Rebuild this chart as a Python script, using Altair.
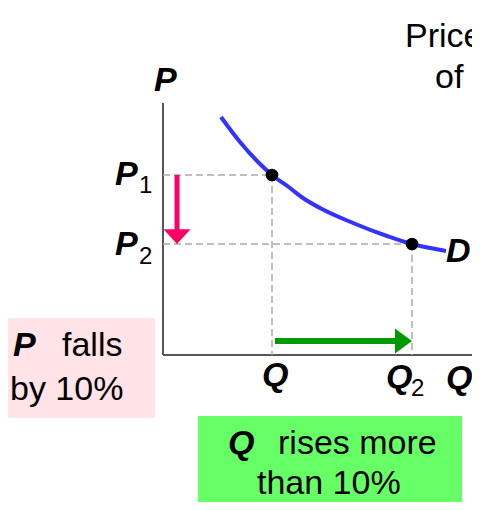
import altair as alt
import pandas as pd

# ---- canvas geometry (layout coordinates, px of the 480x510 picture) ----
W, H = 464, 494
xs = alt.Scale(domain=[8, 8 + W], nice=False, zero=False)
ys = alt.Scale(domain=[8, 8 + H], nice=False, zero=False, reverse=True)

# ---- data ----
demand_q = [221, 240, 258, 272, 290, 303, 320, 353, 387, 412, 430, 446]
demand_p = [117, 142, 162, 175, 188, 198, 208, 223, 236, 244, 248, 251]

point_q = [272, 412]
point_p = [175, 244]

origin_q, origin_p = 163, 355
axis_top_p, axis_right_q = 103, 477

box_labels = ["pink", "green"]
box_x1 = [0, 198]
box_x2 = [155, 462]
box_y1 = [318, 416]
box_y2 = [418, 512]

# bold-italic symbols
sym_text = ["P", "P", "P", "Q", "Q", "Q", "D", "P", "Q"]
sym_x = [154, 115, 115, 262, 386, 446, 446, 13, 228]
sym_y = [91, 185, 255, 386, 388, 389, 262, 356, 454]
# subscripts
sub_text = ["1", "2", "2"]
sub_x = [139, 139, 411]
sub_y = [193, 264, 396]
# plain text
txt_text = ["falls", "by 10%", "rises more", "than 10%", "Price elasticity", "of demand"]
txt_x = [62, 10, 278, 257, 405, 435]
txt_y = [356, 400, 454, 494, 47, 88]

# arrows (start, shaft end, tip)
pink_q, pink_p0, pink_p1, pink_tip = 177, 175, 231, 244
green_p, green_q0, green_q1, green_tip = 341, 275, 398, 412


def X(f):
    return alt.X(f, type="quantitative", scale=xs, axis=None)


def Y(f):
    return alt.Y(f, type="quantitative", scale=ys, axis=None)


boxes = alt.Chart(pd.DataFrame({"b": box_labels, "x1": box_x1, "x2": box_x2,
                                "y1": box_y1, "y2": box_y2})).mark_rect().encode(
    x=X("x1"), x2="x2", y=Y("y1"), y2="y2",
    color=alt.Color("b:N", scale=alt.Scale(domain=box_labels,
                                           range=["#ffe3e6", "#66ff66"]), legend=None),
)

axes = alt.Chart(pd.DataFrame({
    "x1": [origin_q, origin_q], "x2": [origin_q, axis_right_q],
    "y1": [axis_top_p, origin_p], "y2": [origin_p, origin_p]})).mark_rule(
    color="#555555", strokeWidth=2).encode(x=X("x1"), x2="x2", y=Y("y1"), y2="y2")

guides = alt.Chart(pd.DataFrame({
    "x1": [origin_q, origin_q, point_q[0], point_q[1]],
    "x2": [point_q[0], point_q[1], point_q[0], point_q[1]],
    "y1": [point_p[0], point_p[1], point_p[0], point_p[1]],
    "y2": [point_p[0], point_p[1], origin_p, origin_p]})).mark_rule(
    color="#aaaaaa", strokeWidth=1.5, strokeDash=[7, 4]).encode(
    x=X("x1"), x2="x2", y=Y("y1"), y2="y2")

curve = alt.Chart(pd.DataFrame({"q": demand_q, "p": demand_p})).mark_line(
    color="#3333ff", strokeWidth=4, interpolate="monotone").encode(
    x=X("q"), y=Y("p"), order="q:Q")

dots = alt.Chart(pd.DataFrame({"q": point_q, "p": point_p})).mark_circle(
    color="black", size=160, opacity=1).encode(x=X("q"), y=Y("p"))

pink_shaft = alt.Chart(pd.DataFrame({"x": [pink_q], "y1": [pink_p0], "y2": [pink_p1]})).mark_rule(
    color="#ff0066", strokeWidth=5).encode(x=X("x"), y=Y("y1"), y2="y2")
pink_head = alt.Chart(pd.DataFrame({"x": [pink_q], "y": [pink_tip]})).mark_point(
    shape="M-1,-1.1L1,-1.1L0,0Z", filled=True, size=729, color="#ff0066",
    opacity=1, strokeWidth=0).encode(x=X("x"), y=Y("y"))

green_shaft = alt.Chart(pd.DataFrame({"x1": [green_q0], "x2": [green_q1], "y": [green_p]})).mark_rule(
    color="#009900", strokeWidth=6).encode(x=X("x1"), x2="x2", y=Y("y"))
green_head = alt.Chart(pd.DataFrame({"x": [green_tip], "y": [green_p]})).mark_point(
    shape="M0,0L-1.36,-1L-1.36,1Z", filled=True, size=625, color="#009900",
    opacity=1, strokeWidth=0).encode(x=X("x"), y=Y("y"))

symbols = alt.Chart(pd.DataFrame({"t": sym_text, "x": sym_x, "y": sym_y})).mark_text(
    font="Liberation Sans", fontSize=34, fontWeight="bold", fontStyle="italic",
    align="left", baseline="alphabetic", color="black").encode(
    x=X("x"), y=Y("y"), text="t:N")

subs = alt.Chart(pd.DataFrame({"t": sub_text, "x": sub_x, "y": sub_y})).mark_text(
    font="Liberation Sans", fontSize=24, align="left", baseline="alphabetic",
    color="black").encode(x=X("x"), y=Y("y"), text="t:N")

texts = alt.Chart(pd.DataFrame({"t": txt_text, "x": txt_x, "y": txt_y})).mark_text(
    font="Liberation Sans", fontSize=34, align="left", baseline="alphabetic",
    color="black").encode(x=X("x"), y=Y("y"), text="t:N")

chart = alt.layer(boxes, axes, guides, curve, dots, pink_shaft, pink_head,
                  green_shaft, green_head, symbols, subs, texts).properties(
    width=W, height=H, padding=0, autosize=alt.AutoSizeParams(type="none"),
    background="white",
).configure_view(stroke=None)

chart.save("out.html", embed_options={"renderer": "svg", "actions": False})
